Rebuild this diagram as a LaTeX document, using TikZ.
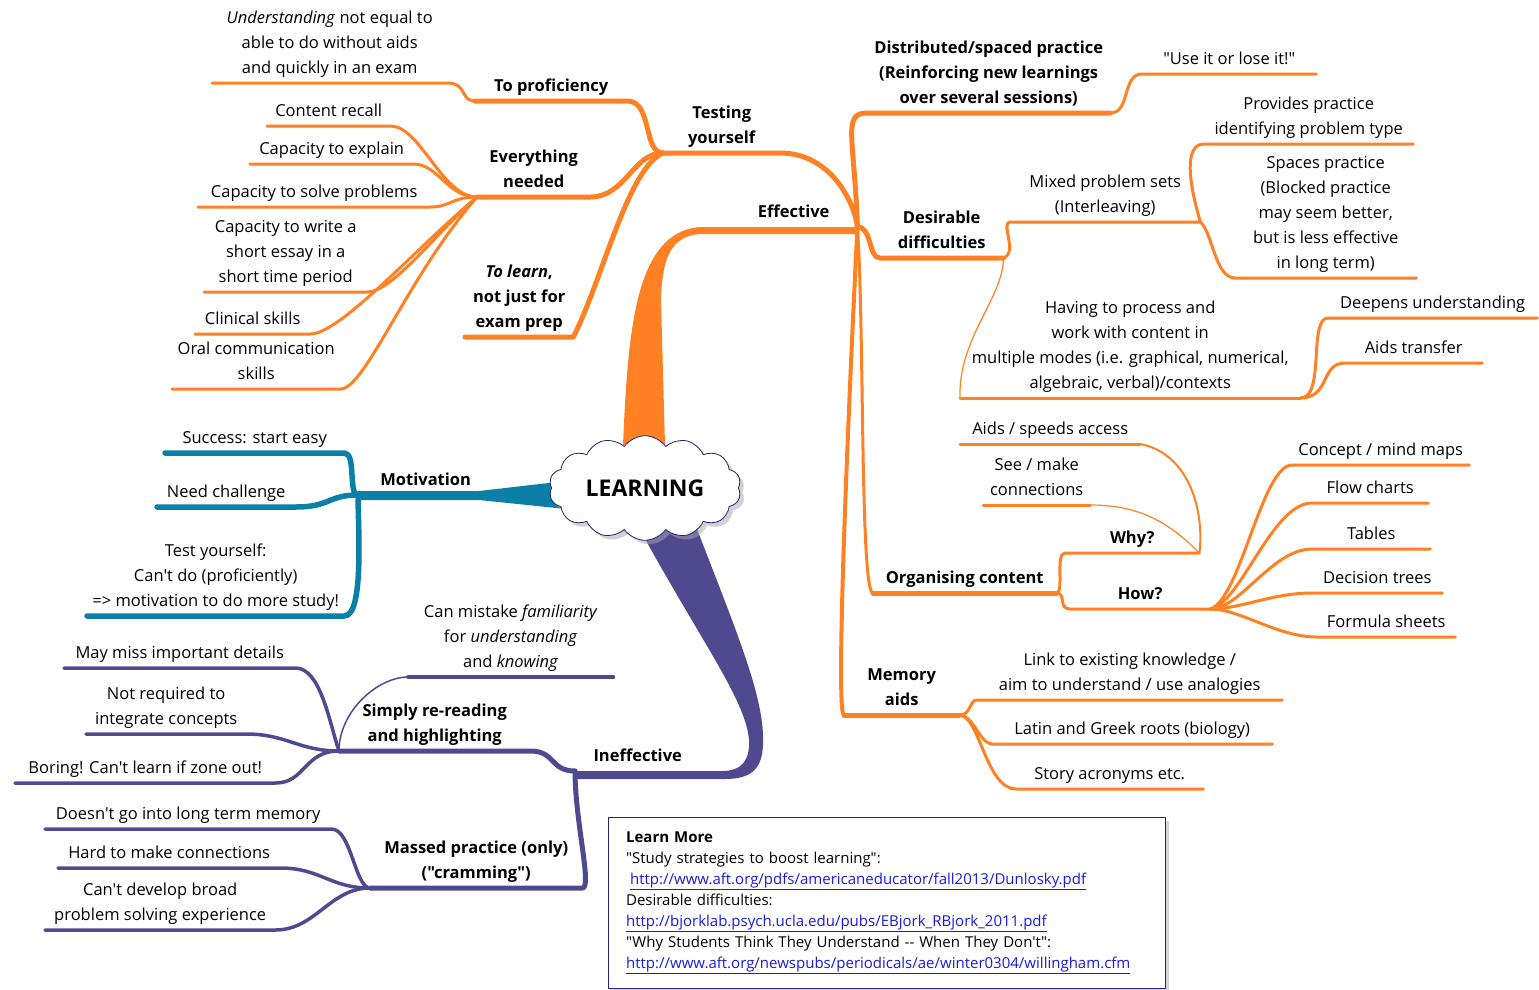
\documentclass[tikz,border=0pt]{standalone}
\usepackage{fontspec}
\setmainfont{Open Sans}[Ligatures=TeXOff]
\usetikzlibrary{shapes.symbols,shadows}

\definecolor{orng}{HTML}{FF8124}
\definecolor{mblue}{HTML}{0A80A8}
\definecolor{purp}{HTML}{4F4A90}
\definecolor{navy}{HTML}{22227A}
\definecolor{linkblue}{HTML}{1A1AE6}
\newcommand{\lnk}[1]{\textcolor{linkblue}{\underline{#1}}}
\newcommand{\mapfont}{\fontsize{16.5}{25}\selectfont}

\tikzstyle{leaf}=[anchor=south west,align=center,inner xsep=0pt,inner ysep=1.5pt,font=\mapfont,execute at end node=\strut]
\tikzstyle{head}=[leaf,font=\mapfont\bfseries]
\tikzstyle{obr}=[draw=orng,line width=5pt]
\tikzstyle{olf}=[draw=orng,line width=3pt]
\tikzstyle{othin}=[draw=orng,line width=1.2pt]
\tikzstyle{blf}=[draw=mblue,line width=5.5pt]
\tikzstyle{pbr}=[draw=purp,line width=5pt]
\tikzstyle{plf}=[draw=purp,line width=3.5pt]
\tikzstyle{pthin}=[draw=purp,line width=1.5pt]

\begin{document}
\begin{tikzpicture}[x=1pt,y=-1pt,line cap=round,line join=round]
    \useasboundingbox (0,0) rectangle (1539,989);

    % orange: effective
    \node[head,minimum width=127] (eff) at (730,227) {Effective};
    \node[head,minimum width=117] (test) at (663,153) {Testing\\yourself};
    \node[head,minimum width=152] (prof) at (475,101) {To proficiency};
    \node[leaf,minimum width=235] (under) at (212,83) {\textit{Understanding} not equal to\\able to do without aids\\and quickly in an exam};
    \node[head,minimum width=113] (every) at (477,197) {Everything\\needed};
    \node[leaf,minimum width=123] (crec) at (267,126) {Content recall};
    \node[leaf,minimum width=163] (cexp) at (250,164) {Capacity to explain};
    \node[leaf,minimum width=232] (csolve) at (198,207) {Capacity to solve problems};
    \node[leaf,minimum width=163] (cwrite) at (204,292) {Capacity to write a\\short essay in a\\short time period};
    \node[leaf,minimum width=115] (clin) at (195,334) {Clinical skills};
    \node[leaf,minimum width=168] (oral) at (172,389) {Oral communication\\skills};
    \node[head,minimum width=108] (tolearn) at (465,337) {\textit{To learn},\\not just for\\exam prep};

    \node[head,minimum width=243] (dist) at (867,113) {Distributed/spaced practice\\(Reinforcing new learnings\\over several sessions)};
    \node[leaf,minimum width=174] (use) at (1142,74) {"Use it or lose it!"};
    \node[head,minimum width=123] (desir) at (880,258) {Desirable\\difficulties};
    \node[leaf,minimum width=190] (mixed) at (1010,222) {Mixed problem sets\\(Interleaving)};
    \node[leaf,minimum width=209] (prov) at (1204,144) {Provides practice\\identifying problem type};
    \node[leaf,minimum width=181] (spaces) at (1235,278) {Spaces practice\\(Blocked practice\\may seem better,\\but is less effective\\in long term)};
    \node[leaf,minimum width=340] (having) at (960,398) {Having to process and\\work with content in\\multiple modes (i.e. graphical, numerical,\\algebraic, verbal)/contexts};
    \node[leaf,minimum width=209] (deep) at (1328,318) {Deepens understanding};
    \node[leaf,minimum width=137] (transf) at (1345,363) {Aids transfer};

    \node[head,minimum width=183] (org) at (873,593) {Organising content};
    \node[head,minimum width=134] (why) at (1065,553) {Why?};
    \node[leaf,minimum width=180] (speeds) at (960,444) {Aids / speeds access};
    \node[leaf,minimum width=107] (see) at (983,505) {See / make\\connections};
    \node[head,minimum width=140] (how) at (1070,609) {How?};
    \node[leaf,minimum width=177] (concept) at (1292,465) {Concept / mind maps};
    \node[leaf,minimum width=116] (flow) at (1312,503) {Flow charts};
    \node[leaf,minimum width=118] (tables) at (1312,549) {Tables};
    \node[leaf,minimum width=130] (dec) at (1312,593) {Decision trees};
    \node[leaf,minimum width=138] (form) at (1317,637) {Formula sheets};

    \node[head,minimum width=115] (mem) at (844,715) {Memory\\aids};
    \node[leaf,minimum width=305] (link) at (977,700) {Link to existing knowledge /\\aim to understand / use analogies};
    \node[leaf,minimum width=280] (latin) at (992,744) {Latin and Greek roots (biology)};
    \node[leaf,minimum width=187] (story) at (1016,789) {Story acronyms etc.};

    % blue: motivation
    \node[head,minimum width=135] (motiv) at (358,495) {Motivation};
    \node[leaf,minimum width=179] (succ) at (165,453) {Success: start easy};
    \node[leaf,minimum width=138] (need) at (157,507) {Need challenge};
    \node[leaf,minimum width=257] (testy) at (87,616) {Test yourself:\\Can't do (proficiently)\\=> motivation to do more study!};

    % purple: ineffective
    \node[head,minimum width=125] (ineff) at (575,771) {Ineffective};
    \node[head,minimum width=191] (simply) at (339,751) {Simply re-reading\\and highlighting};
    \node[leaf,minimum width=205] (mist) at (408,677) {Can mistake \textit{familiarity}\\for \textit{understanding}\\and \textit{knowing}};
    \node[leaf,minimum width=231] (maymiss) at (64,668) {May miss important details};
    \node[leaf,minimum width=160] (notreq) at (86,734) {Not required to\\integrate concepts};
    \node[leaf,minimum width=260] (boring) at (15,783) {Boring! Can't learn if zone out!};
    \node[head,minimum width=212] (massed) at (370,888) {Massed practice (only)\\("cramming")};
    \node[leaf,minimum width=286] (doesnt) at (45,829) {Doesn't go into long term memory};
    \node[leaf,minimum width=222] (hard) at (58,868) {Hard to make connections};
    \node[leaf,minimum width=230] (cantdev) at (45,930) {Can't develop broad\\problem solving experience};

    % trunks
    \fill[orng] (623,445) .. controls (628,330) and (635,232) .. (700,227) -- (eff.south east) -- ++(0,7) -- (700,234) .. controls (670,236) and (662,260) .. (661,300) -- (665,445) -- cycle;
    \fill[mblue] (566,481) -- (479,491) -- (358,491) -- (358,500) -- (479,500) -- (566,509) -- cycle;
    \fill[purp] (638,526) -- (695,524) .. controls (740,640) and (765,700) .. (763,745) .. controls (762,770) and (750,779) .. (725,779) -- (575,779) -- (575,771) -- (722,771) .. controls (742,771) and (750,760) .. (749,740) .. controls (746,700) and (700,640) .. (638,526) -- cycle;

    % orange lines
    \draw[obr] (test.south west) -- (test.south east) .. controls +(50,0) and +(-3,-25) .. (eff.south east);
    \draw[obr] (prof.south west) -- (prof.south east) .. controls +(25,0) and +(-20,0) .. (test.south west);
    \draw[olf] (under.south west) -- (under.south east) .. controls +(20,0) and +(-15,0) .. (prof.south west);
    \draw[obr] (every.south west) -- (every.south east) .. controls +(35,0) and +(-30,0) .. (test.south west);
    \draw[obr] (tolearn.south west) -- (tolearn.south east) .. controls +(30,-60) and +(-35,15) .. (test.south west);
    \draw[olf] (crec.south west) -- (crec.south east) .. controls +(30,0) and +(-35,0) .. (every.south west);
    \draw[olf] (cexp.south west) -- (cexp.south east) .. controls +(25,0) and +(-30,0) .. (every.south west);
    \draw[olf] (csolve.south west) -- (csolve.south east) .. controls +(20,0) and +(-25,0) .. (every.south west);
    \draw[olf] (cwrite.south west) -- (cwrite.south east) .. controls +(25,0) and +(-40,35) .. (every.south west);
    \draw[olf] (clin.south west) -- (clin.south east) .. controls +(30,0) and +(-60,50) .. (every.south west);
    \draw[olf] (oral.south west) -- (oral.south east) .. controls +(25,0) and +(-70,80) .. (every.south west);

    \draw[obr] (eff.south east) .. controls +(-3,-90) and +(-25,0) .. (dist.south west) -- (dist.south east);
    \draw[olf] (dist.south east) .. controls +(20,0) and +(-20,0) .. (use.south west) -- (use.south east);
    \draw[obr] (eff.south east) .. controls +(15,0) and +(-12,0) .. (desir.south west) -- (desir.south east);
    \draw[olf] (desir.south east) .. controls +(15,-5) and +(-10,0) .. (mixed.south west) -- (mixed.south east);
    \draw[olf] (mixed.south east) .. controls +(-12,-40) and +(-20,0) .. (prov.south west) -- (prov.south east);
    \draw[olf] (mixed.south east) .. controls +(12,10) and +(-20,0) .. (spaces.south west) -- (spaces.south east);
    \draw[othin] (desir.south east) .. controls +(0,40) and +(-2,-60) .. (having.south west);
    \draw[olf] (having.south west) -- (having.south east);
    \draw[olf] (having.south east) .. controls +(25,0) and +(-20,0) .. (deep.south west) -- (deep.south east);
    \draw[olf] (having.south east) .. controls +(30,0) and +(-25,0) .. (transf.south west) -- (transf.south east);

    \draw[orng,line width=3pt] (eff.south east) .. controls +(7,100) and +(-13,0) .. (org.south west);
    \draw[obr] (org.south west) -- (org.south east);
    \draw[olf] (org.south east) .. controls +(8,0) and +(-10,0) .. (why.south west) -- (why.south east);
    \draw[olf] (org.south east) .. controls +(10,0) and +(-12,0) .. (how.south west) -- (how.south east);
    \draw[orng,line width=2pt] (speeds.south east) .. controls +(50,10) and +(5,-40) .. (why.south east);
    \draw[olf] (speeds.south west) -- (speeds.south east);
    \draw[olf] (see.south west) -- (see.south east);
    \draw[othin] (see.south east) .. controls +(50,0) and +(-30,-30) .. (why.south east);
    \draw[olf] (how.south east) .. controls +(30,-10) and +(-30,0) .. (concept.south west) -- (concept.south east);
    \draw[olf] (how.south east) .. controls +(30,-5) and +(-40,0) .. (flow.south west) -- (flow.south east);
    \draw[olf] (how.south east) .. controls +(30,0) and +(-40,0) .. (tables.south west) -- (tables.south east);
    \draw[olf] (how.south east) .. controls +(30,0) and +(-40,0) .. (dec.south west) -- (dec.south east);
    \draw[olf] (how.south east) .. controls +(30,0) and +(-40,0) .. (form.south west) -- (form.south east);

    \draw[orng,line width=4pt] (eff.south east) .. controls +(-5,100) and +(-10,0) .. (mem.south west);
    \draw[obr] (mem.south west) -- (mem.south east);
    \draw[olf] (mem.south east) .. controls +(12,0) and +(-8,0) .. (link.south west) -- (link.south east);
    \draw[olf] (mem.south east) .. controls +(14,0) and +(-12,0) .. (latin.south west) -- (latin.south east);
    \draw[olf] (mem.south east) .. controls +(20,0) and +(-30,0) .. (story.south west) -- (story.south east);

    % blue lines
    \draw[blf] (succ.south west) -- (succ.south east) .. controls +(12,0) and +(-10,0) .. (motiv.south west);
    \draw[blf] (need.south west) -- (need.south east) .. controls +(35,0) and +(-30,0) .. (motiv.south west);
    \draw[blf] (testy.south west) -- (testy.south east) .. controls +(20,0) and +(0,30) .. (motiv.south west);

    % purple lines
    \draw[pbr] (simply.south west) -- (simply.south east) .. controls +(25,0) and +(-25,0) .. (ineff.south west);
    \draw[pbr] (massed.south west) -- (massed.south east) .. controls +(10,0) and +(0,50) .. (ineff.south west);
    \draw[pthin] (simply.south west) .. controls +(0,-40) and +(-30,0) .. (mist.south west);
    \draw[plf] (mist.south west) -- (mist.south east);
    \draw[plf] (maymiss.south west) -- (maymiss.south east) .. controls +(25,0) and +(-10,-30) .. (simply.south west);
    \draw[plf] (notreq.south west) -- (notreq.south east) .. controls +(40,0) and +(-40,0) .. (simply.south west);
    \draw[plf] (boring.south west) -- (boring.south east) .. controls +(30,0) and +(-35,0) .. (simply.south west);
    \draw[plf] (doesnt.south west) -- (doesnt.south east) .. controls +(20,0) and +(-15,0) .. (massed.south west);
    \draw[plf] (hard.south west) -- (hard.south east) .. controls +(40,0) and +(-40,0) .. (massed.south west);
    \draw[plf] (cantdev.south west) -- (cantdev.south east) .. controls +(40,0) and +(-40,0) .. (massed.south west);

    % centre
    \node[cloud,cloud puffs=14,cloud puff arc=110,aspect=2,draw=navy,thick,fill=white,drop shadow={shadow xshift=4pt,shadow yshift=-4pt,fill=black!35},minimum width=192,minimum height=92,inner sep=2pt,font=\bfseries\fontsize{23}{28}\selectfont] (learn) at (645,488) {LEARNING};

    % learn more box
    \node[draw=navy,line width=1.2pt,fill=white,drop shadow={shadow xshift=3pt,shadow yshift=-3pt,fill=black!30},anchor=north west,minimum width=557,minimum height=171,text width=522,align=left,inner xsep=17pt,font=\fontsize{15}{21}\selectfont] (more) at (608,817) {{\bfseries Learn More}\\
    "Study strategies to boost learning":\\
    \hspace*{4pt}\lnk{http://www.aft.org/pdfs/americaneducator/fall2013/Dunlosky.pdf}\\
    Desirable difficulties:\\
    \lnk{http://bjorklab.psych.ucla.edu/pubs/EBjork\_RBjork\_2011.pdf}\\
    "Why Students Think They Understand -- When They Don't":\\
    \lnk{http://www.aft.org/newspubs/periodicals/ae/winter0304/willingham.cfm}};
\end{tikzpicture}
\end{document}
